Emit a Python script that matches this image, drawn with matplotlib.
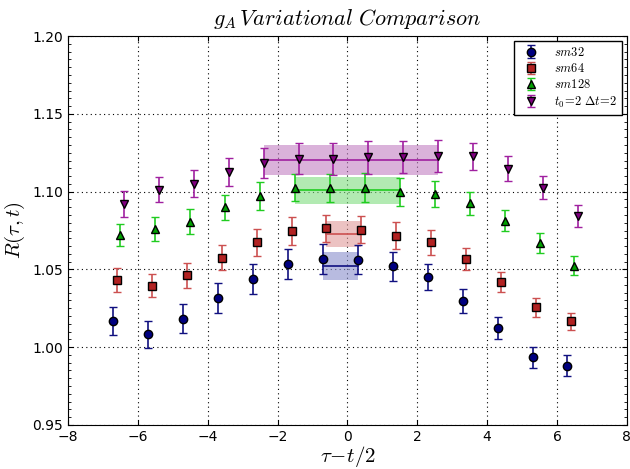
import numpy as np
import matplotlib
matplotlib.use("Agg")
import matplotlib.pyplot as plt
from matplotlib.ticker import MultipleLocator

plt.rcParams['mathtext.fontset'] = 'cm'

tau = [-6.5, -5.5, -4.5, -3.5, -2.5, -1.5, -0.5, 0.5, 1.5, 2.5, 3.5, 4.5, 5.5, 6.5]

sm32 = [1.0167, 1.0082, 1.0184, 1.0316, 1.0440, 1.0533, 1.0567,
        1.0563, 1.0520, 1.0452, 1.0299, 1.0121, 0.9935, 0.9881]
sm32_err = [0.0088, 0.0087, 0.0092, 0.0094, 0.0097, 0.0095, 0.0094,
            0.0093, 0.0094, 0.0084, 0.0078, 0.0071, 0.0068, 0.0066]

sm64 = [1.0433, 1.0394, 1.0463, 1.0576, 1.0675, 1.0747, 1.0764,
        1.0756, 1.0715, 1.0673, 1.0565, 1.0420, 1.0255, 1.0165]
sm64_err = [0.0076, 0.0074, 0.0080, 0.0083, 0.0087, 0.0087, 0.0085,
            0.0088, 0.0087, 0.0078, 0.0070, 0.0063, 0.0058, 0.0056]

sm128 = [1.0721, 1.0758, 1.0807, 1.0898, 1.0972, 1.1026, 1.1026,
         1.1026, 1.1000, 1.0985, 1.0924, 1.0812, 1.0669, 1.0524]
sm128_err = [0.0073, 0.0076, 0.0082, 0.0083, 0.0089, 0.0089, 0.0090,
             0.0093, 0.0090, 0.0082, 0.0075, 0.0068, 0.0062, 0.0060]

var = [1.0920, 1.1011, 1.1050, 1.1124, 1.1184, 1.1212, 1.1210,
       1.1222, 1.1222, 1.1230, 1.1226, 1.1146, 1.1026, 1.0842]
var_err = [0.0081, 0.0080, 0.0087, 0.0090, 0.0095, 0.0100, 0.0100,
           0.0106, 0.0104, 0.0102, 0.0088, 0.0080, 0.0073, 0.0069]

# fit values: (tau start, tau end, value, error)
fit32 = (-0.5, 0.5, 1.0525, 0.0090)
fit64 = (-0.5, 0.5, 1.0729, 0.0083)
fit128 = (-1.5, 1.5, 1.1009, 0.0088)
fitvar = (-2.5, 2.5, 1.1203, 0.0097)

series = [
    (sm32, sm32_err, fit32, -0.2, 'o', '#000080', '#101080', '#8a8fcc', r'$sm32$'),
    (sm64, sm64_err, fit64, -0.1, 's', '#b22222', '#cc5050', '#e09a9a', r'$sm64$'),
    (sm128, sm128_err, fit128, 0.0, '^', '#00a000', '#20cc20', '#7fdc7f', r'$sm128$'),
    (var, var_err, fitvar, 0.1, 'v', '#800080', '#a020a0', '#c27fc2', r'$t_0\!=\!2\ \Delta t\!=\!2$'),
]

fig = plt.figure(figsize=(6.3, 4.69), dpi=100)
ax = fig.add_axes([0.108, 0.094, 0.887, 0.829])

t = np.array(tau)
for y, e, fit, off, m, c, ec, fc, lab in series:
    ax.errorbar(t + off, y, yerr=e, fmt=m, color=c, ecolor=ec, mec='k', mew=1.0,
                ms=6, capsize=3, elinewidth=1.2, capthick=1.2, label=lab, zorder=3)
    x0, x1, v, dv = fit
    xs = [x0 + off, x1 + off]
    ax.fill_between(xs, v - dv, v + dv, color=fc, alpha=0.6, lw=0, zorder=1)
    ax.plot(xs, [v, v], color=ec, lw=1.2, zorder=2)

ax.set_xlim(-8, 8)
ax.set_ylim(0.95, 1.20)
ax.xaxis.set_major_locator(MultipleLocator(2))
ax.yaxis.set_major_locator(MultipleLocator(0.05))
ax.yaxis.set_minor_locator(MultipleLocator(0.005))
ax.tick_params(direction='in', which='both', top=True, right=True, labelsize=10)
ax.tick_params(which='minor', length=2)
ax.tick_params(which='minor', axis='x', bottom=False, top=False)
ax.grid(True, linestyle=(0, (1, 3)), color='k', lw=0.8)
ax.set_axisbelow(True)

ax.set_title(r'$g_A\, Variational\ Comparison$', fontsize=16, pad=8)
ax.set_xlabel(r'$\tau\!-\!t/2$', fontsize=15, labelpad=0)
ax.set_ylabel(r'$R(\tau,t)$', fontsize=15, labelpad=4)

leg = ax.legend(loc='upper right', numpoints=1, fontsize=9, fancybox=False,
                borderaxespad=0.4, handletextpad=0.8, labelspacing=0.25,
                borderpad=0.4)
leg.get_frame().set_edgecolor('k')
leg.get_frame().set_alpha(1.0)

fig.savefig('out.png', dpi=100)
